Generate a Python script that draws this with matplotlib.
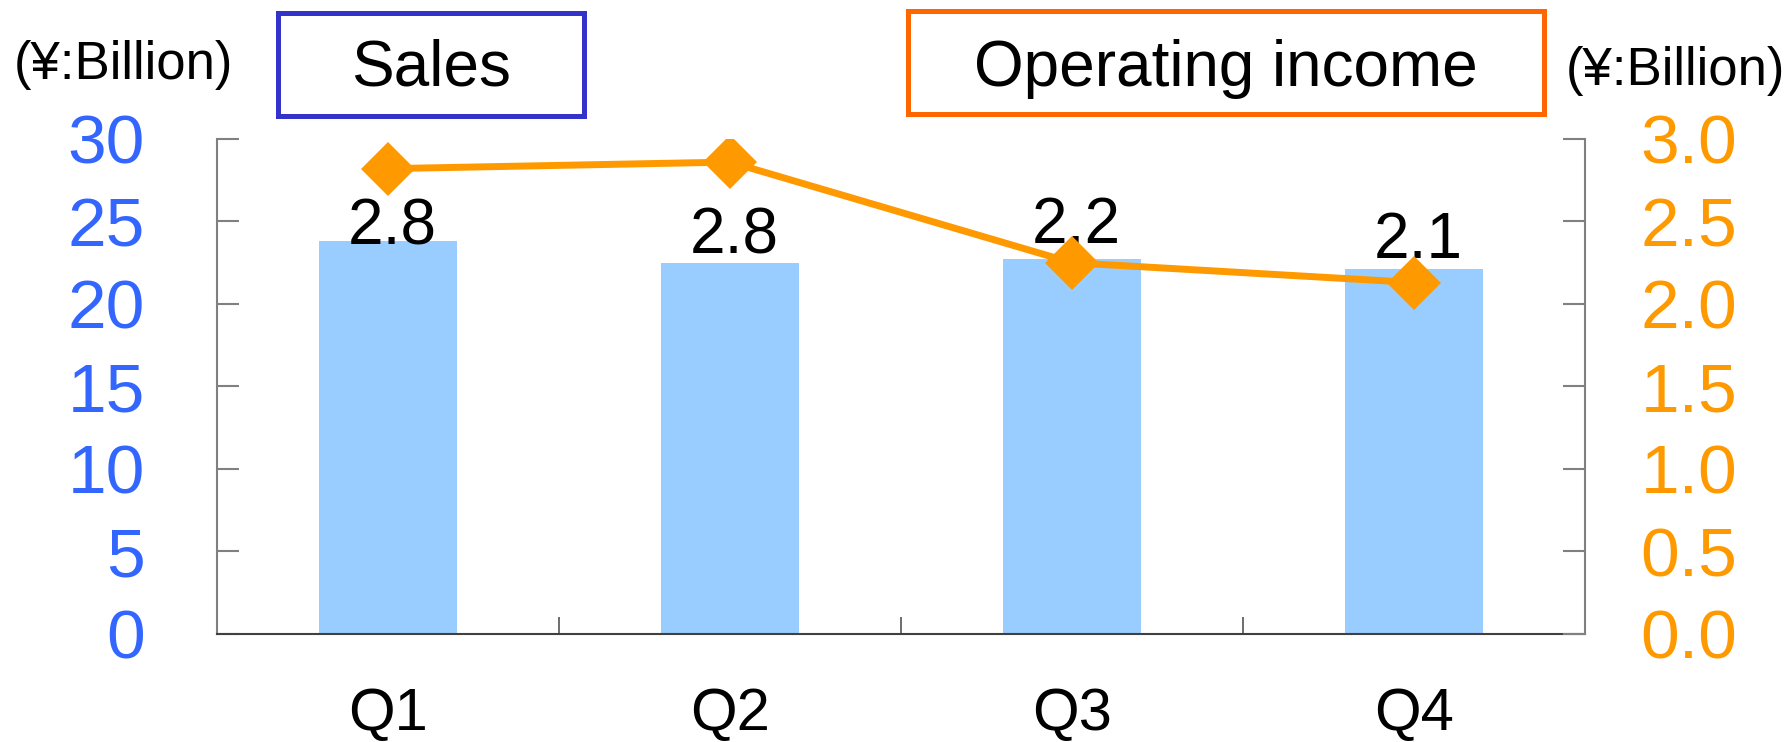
import matplotlib.pyplot as plt
from matplotlib.patches import Rectangle
from matplotlib.ticker import FixedLocator

plt.rcParams['font.family'] = ['Liberation Sans', 'DejaVu Sans']

quarters = ["Q1", "Q2", "Q3", "Q4"]
sales = [23.8, 22.5, 22.7, 22.1]
op_income = [2.82, 2.86, 2.25, 2.13]
op_labels = ["2.8", "2.8", "2.2", "2.1"]
sales_ticks = [0, 5, 10, 15, 20, 25, 30]
income_ticks = [0.0, 0.5, 1.0, 1.5, 2.0, 2.5, 3.0]

# label offsets above bar tops (points), styling only
label_dy = [-2.6, 7, 12, 8]

BLUE = "#3366FF"
ORANGE = "#FF9900"
BAR = "#99CCFF"

fig = plt.figure(figsize=(17.91, 7.42), dpi=100)
ax = fig.add_axes([0.1212, 0.1456, 0.885 - 0.1212, 0.8127 - 0.1456])
x = range(len(quarters))

ax.bar(x, sales, width=0.406, color=BAR, zorder=1)
ax.set_xlim(-0.5, len(quarters) - 0.5)
ax.set_ylim(0, 30)
ax.set_yticks(sales_ticks)
ax.set_yticklabels([str(t) for t in sales_ticks])
ax.set_xticks(list(x))
ax.set_xticklabels(quarters)
ax.xaxis.set_minor_locator(FixedLocator([i - 0.5 for i in range(len(quarters) + 1)]))
ax.tick_params(axis="x", which="major", length=0, pad=38, labelsize=43)
ax.tick_params(axis="x", which="minor", direction="in", length=12, width=1.2, color="#555555")
ax.tick_params(axis="y", direction="in", length=16, width=1.5, color="#808080",
               labelcolor=BLUE, labelsize=50, pad=52)
ax.spines["top"].set_visible(False)
ax.spines["right"].set_visible(False)
ax.spines["left"].set_color("#808080")
ax.spines["left"].set_linewidth(1.5)
ax.spines["bottom"].set_color("#404040")
ax.spines["bottom"].set_linewidth(1.5)

for i, (v, lab) in enumerate(zip(sales, op_labels)):
    ax.annotate(lab, (i, v), xytext=(3, label_dy[i]), textcoords="offset points",
                ha="center", va="baseline", fontsize=46, color="black", zorder=3)

ax2 = ax.twinx()
ax2.plot(list(x), op_income, color=ORANGE, linewidth=5, marker="D",
         markersize=27, markeredgewidth=0, zorder=4)
ax2.set_ylim(0, 3.0)
ax2.set_yticks(income_ticks)
ax2.set_yticklabels([f"{t:.1f}" for t in income_ticks])
ax2.tick_params(axis="y", direction="in", length=16, width=1.5, color="#808080",
                labelcolor=ORANGE, labelsize=50, pad=40)
for s in ["top", "left", "bottom"]:
    ax2.spines[s].set_visible(False)
ax2.spines["right"].set_color("#808080")
ax2.spines["right"].set_linewidth(1.5)

# unit labels
fig.text(123 / 1791, 1 - 65 / 742, "(¥:Billion)", ha="center", va="center", fontsize=38)
fig.text(1675 / 1791, 1 - 71 / 742, "(¥:Billion)", ha="center", va="center", fontsize=38)

# title boxes
fig.patches.append(Rectangle((278 / 1791, 1 - 116 / 742), 306 / 1791, 103 / 742,
                             transform=fig.transFigure, fill=False,
                             edgecolor="#3333CC", linewidth=3.6))
fig.text(431 / 1791, 1 - 69 / 742, "Sales", ha="center", va="center", fontsize=46)
fig.patches.append(Rectangle((908 / 1791, 1 - 114 / 742), 636 / 1791, 103 / 742,
                             transform=fig.transFigure, fill=False,
                             edgecolor="#FF6600", linewidth=3.6))
fig.text(1226 / 1791, 1 - 69 / 742, "Operating income", ha="center", va="center", fontsize=46)

fig.savefig("out.png", dpi=100)
